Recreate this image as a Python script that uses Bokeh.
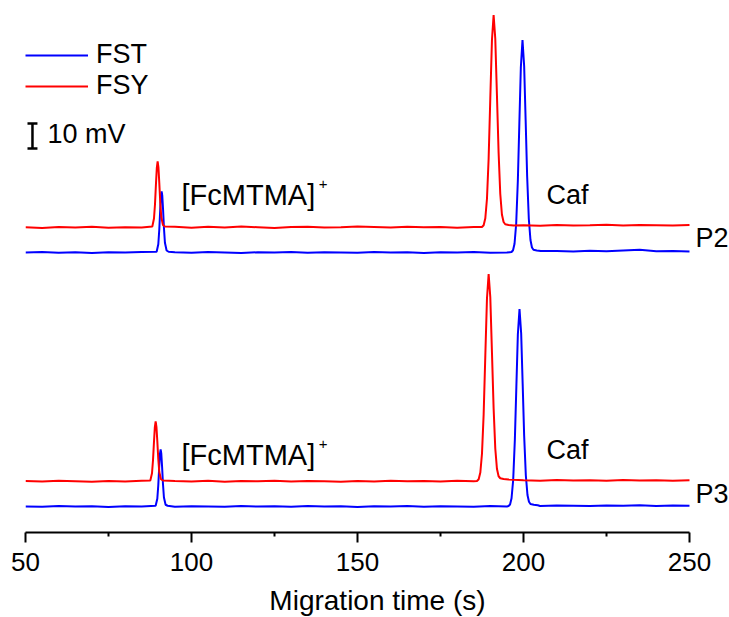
from bokeh.plotting import figure
from bokeh.models import Range1d, FixedTicker, Legend, LegendItem
from bokeh.core.properties import value
from bokeh.embed import file_html
from bokeh.resources import INLINE

# ---------------- data (migration time in s, signal in mV) ----------------
grid_t = list(range(50, 251, 5))

p2_fsy_base = [0.1, -0.2, 0.2, 0.0, 0.3, -0.1, 0.1, 0.0, 0.2, 0.3,
               -0.1, 0.3, 0.0, 0.4, 0.1, -0.2, 0.2, 0.3, 0.0, 0.1,
               0.4, 0.2, 0.0, 0.3, 0.1, 0.2, -0.1, 0.2, 0.3, 0.1,
               0.9, 0.7, 1.0, 0.8, 0.9, 1.1, 0.8, 1.0, 0.9, 0.8,
               1.0]
p2_fst_base = [0.0, 0.2, -0.1, 0.1, -0.2, 0.1, 0.0, 0.2, 0.0, 0.1,
               -0.1, 0.2, 0.0, -0.2, 0.1, 0.0, 0.2, -0.1, 0.1, 0.0,
               -0.1, 0.2, 0.0, 0.1, -0.2, 0.1, 0.0, 0.2, -0.1, 0.0,
               0.4, 0.5, 0.6, 0.4, 0.7, 0.5, 0.8, 1.1, 0.5, 0.6,
               0.4]
p3_fsy_base = [0.2, 0.0, 0.3, 0.1, -0.1, 0.2, 0.0, 0.3, 0.1, 0.2,
               0.0, 0.3, -0.1, 0.2, 0.1, 0.3, 0.0, 0.2, 0.1, -0.1,
               0.2, 0.0, 0.3, 0.1, 0.2, 0.0, 0.3, 0.1, 0.2, 0.4,
               0.5, 0.3, 0.6, 0.4, 0.5, 0.3, 0.6, 0.4, 0.5, 0.3,
               0.5]
p3_fst_base = [0.0, -0.1, 0.2, 0.0, 0.1, -0.2, 0.1, 0.0, 0.2, -0.1,
               0.1, 0.0, -0.1, 0.2, 0.0, 0.1, -0.1, 0.2, 0.0, 0.1,
               -0.2, 0.1, 0.0, 0.2, -0.1, 0.1, 0.0, -0.1, 0.2, 0.0,
               0.3, 0.2, 0.4, 0.3, 0.2, 0.4, 0.3, 0.5, 0.2, 0.4,
               0.3]

# [FcMTMA]+ peaks
p2_fsy_fc_t = [88.2, 88.7, 89.0, 89.3, 89.55, 89.8, 90.05, 90.3, 90.6, 90.9, 91.4, 92.0]
p2_fsy_fc_v = [0.4, 3.6, 9.2, 17.5, 23.8, 26.4, 23.9, 17.8, 9.8, 4.2, 1.0, 0.4]
p2_fst_fc_t = [89.5, 90.0, 90.3, 90.55, 90.8, 91.0, 91.2, 91.45, 91.7, 92.0, 92.5, 93.1]
p2_fst_fc_v = [0.3, 3.3, 9.2, 16.3, 22.5, 24.4, 22.7, 16.8, 9.8, 3.9, 0.8, 0.3]
p3_fsy_fc_t = [87.6, 88.1, 88.4, 88.7, 88.95, 89.2, 89.45, 89.7, 90.0, 90.3, 90.8, 91.4]
p3_fsy_fc_v = [0.4, 3.3, 8.4, 15.9, 21.6, 24.0, 21.7, 16.2, 8.9, 3.8, 0.9, 0.4]
p3_fst_fc_t = [89.2, 89.7, 90.0, 90.25, 90.5, 90.7, 90.9, 91.15, 91.4, 91.7, 92.2, 92.8]
p3_fst_fc_v = [0.3, 3.1, 8.6, 15.2, 21.0, 22.8, 21.2, 15.7, 9.2, 3.6, 0.7, 0.3]

# Caf peaks
p2_fsy_caf_t = [187.5, 188.0, 188.5, 189.0, 189.5, 190.0, 190.5, 191.0, 191.5, 192.0,
                192.5, 193.0, 193.5, 194.0, 194.5, 195.5, 197.0]
p2_fsy_caf_v = [0.2, 0.9, 3.7, 11.5, 27.6, 51.6, 75.0, 85.0, 75.5, 53.0,
                30.0, 13.5, 5.2, 2.2, 1.3, 1.0, 0.8]
p2_fst_caf_t = [196.4, 196.85, 197.3, 197.8, 198.3, 198.75, 199.2, 199.7, 200.2, 200.65,
                201.1, 201.6, 202.1, 202.55, 203.0, 204.0, 205.2]
p2_fst_caf_v = [0.2, 0.9, 3.5, 11.5, 28.8, 51.6, 74.0, 85.0, 74.5, 52.8,
                30.5, 13.5, 5.0, 2.0, 1.1, 0.8, 0.6]
p3_fsy_caf_t = [186.0, 186.5, 187.0, 187.5, 188.0, 188.5, 189.0, 189.5, 190.0, 190.5,
                191.0, 191.5, 192.0, 192.5, 193.0, 194.0, 195.5]
p3_fsy_caf_v = [0.2, 0.9, 3.6, 11.2, 26.9, 50.4, 73.2, 83.0, 73.7, 51.7,
                29.3, 13.2, 5.1, 2.1, 1.3, 1.0, 0.8]
p3_fst_caf_t = [195.5, 195.95, 196.4, 196.9, 197.4, 197.85, 198.3, 198.8, 199.3, 199.75,
                200.2, 200.7, 201.2, 201.65, 202.1, 203.1, 204.3]
p3_fst_caf_v = [0.2, 0.8, 3.3, 10.7, 26.8, 47.9, 68.8, 79.0, 69.2, 49.1,
                28.3, 12.5, 4.6, 1.9, 1.0, 0.7, 0.5]

series_names = ["FST", "FSY"]
scale_bar_mv = 10

# ---------------- layout constants ----------------
OFF_P2_FSY, OFF_P2_FST = 122.0, 112.0
OFF_P3_FSY, OFF_P3_FST = 20.4, 10.4
FONT = "Liberation Sans"
RED, BLUE = "#FF0000", "#0000FF"


def build(base, peaks, offset):
    pts = [(t, v) for t, v in zip(grid_t, base)
           if not any(pt[0] <= t <= pt[-1] for pt, _ in peaks)]
    for pt, pv in peaks:
        pts += list(zip(pt, pv))
    pts.sort()
    return [a for a, _ in pts], [b + offset for _, b in pts]


p = figure(frame_width=704, frame_height=524, output_backend="svg", toolbar_location=None,
           x_range=Range1d(50, 262.05), y_range=Range1d(0, 209.6),
           y_axis_location=None, min_border_left=25, min_border_right=0,
           min_border_top=8, min_border_bottom=0)
p.outline_line_color = None
p.xgrid.visible = False
p.ygrid.visible = False
p.background_fill_color = "white"

ax = p.xaxis[0]
ax.bounds = (50, 250)
ax.ticker = FixedTicker(ticks=[50, 100, 150, 200, 250], minor_ticks=[75, 125, 175, 225])
ax.axis_line_width = 2
ax.major_tick_line_width = 2
ax.minor_tick_line_width = 2
ax.major_tick_out = 10
ax.major_tick_in = 0
ax.minor_tick_out = 4
ax.minor_tick_in = 0
ax.major_label_text_font = FONT
ax.major_label_text_font_size = "26px"
ax.major_label_text_color = "black"
ax.major_label_standoff = 10
ax.axis_label = "Migration time (s)"
ax.axis_label_text_font = FONT
ax.axis_label_text_font_size = "28px"
ax.axis_label_text_font_style = "normal"
ax.axis_label_text_color = "black"
ax.axis_label_standoff = 11

t, y = build(p2_fst_base, [(p2_fst_fc_t, p2_fst_fc_v), (p2_fst_caf_t, p2_fst_caf_v)], OFF_P2_FST)
r_fst = p.line(t, y, line_color=BLUE, line_width=2)
t, y = build(p2_fsy_base, [(p2_fsy_fc_t, p2_fsy_fc_v), (p2_fsy_caf_t, p2_fsy_caf_v)], OFF_P2_FSY)
r_fsy = p.line(t, y, line_color=RED, line_width=2)
t, y = build(p3_fst_base, [(p3_fst_fc_t, p3_fst_fc_v), (p3_fst_caf_t, p3_fst_caf_v)], OFF_P3_FST)
p.line(t, y, line_color=BLUE, line_width=2)
t, y = build(p3_fsy_base, [(p3_fsy_fc_t, p3_fsy_fc_v), (p3_fsy_caf_t, p3_fsy_caf_v)], OFF_P3_FSY)
p.line(t, y, line_color=RED, line_width=2)

# scale bar
SB_X, SB_Y0 = 52.1, 153.6
p.segment(x0=[SB_X, SB_X - 1.5, SB_X - 1.5], y0=[SB_Y0, SB_Y0, SB_Y0 + scale_bar_mv],
          x1=[SB_X, SB_X + 1.5, SB_X + 1.5], y1=[SB_Y0 + scale_bar_mv, SB_Y0, SB_Y0 + scale_bar_mv],
          line_color="black", line_width=2.5)

# texts
p.text(x=[56.6, 206.9, 206.9, 251.8, 251.8],
       y=[159.4, 135.0, 33.0, 117.8, 15.4],
       text=[f"{scale_bar_mv} mV", "Caf", "Caf", "P2", "P3"],
       text_font=value(FONT), text_font_size="27px", text_color="black",
       text_baseline="alphabetic", text_align="left")
p.text(x=[97.0, 97.0], y=[135.0, 31.0], text=["[FcMTMA]", "[FcMTMA]"],
       text_font=value(FONT), text_font_size="29px", text_color="black",
       text_baseline="alphabetic", text_align="left")
p.text(x=[138.3, 138.3], y=[139.4, 35.4], text=["+", "+"],
       text_font=value(FONT), text_font_size="15px", text_color="black",
       text_baseline="alphabetic", text_align="left")

legend = Legend(items=[LegendItem(label=series_names[0], renderers=[r_fst]),
                       LegendItem(label=series_names[1], renderers=[r_fsy])],
                location=(0, 431), glyph_width=63, glyph_height=30, label_height=30,
                label_standoff=8, spacing=-2, padding=0, margin=0,
                label_text_font=FONT, label_text_font_size="27px",
                label_text_color="black",
                background_fill_alpha=0, border_line_alpha=0)
p.add_layout(legend)

open("out.html", "w").write(file_html(p, INLINE))
